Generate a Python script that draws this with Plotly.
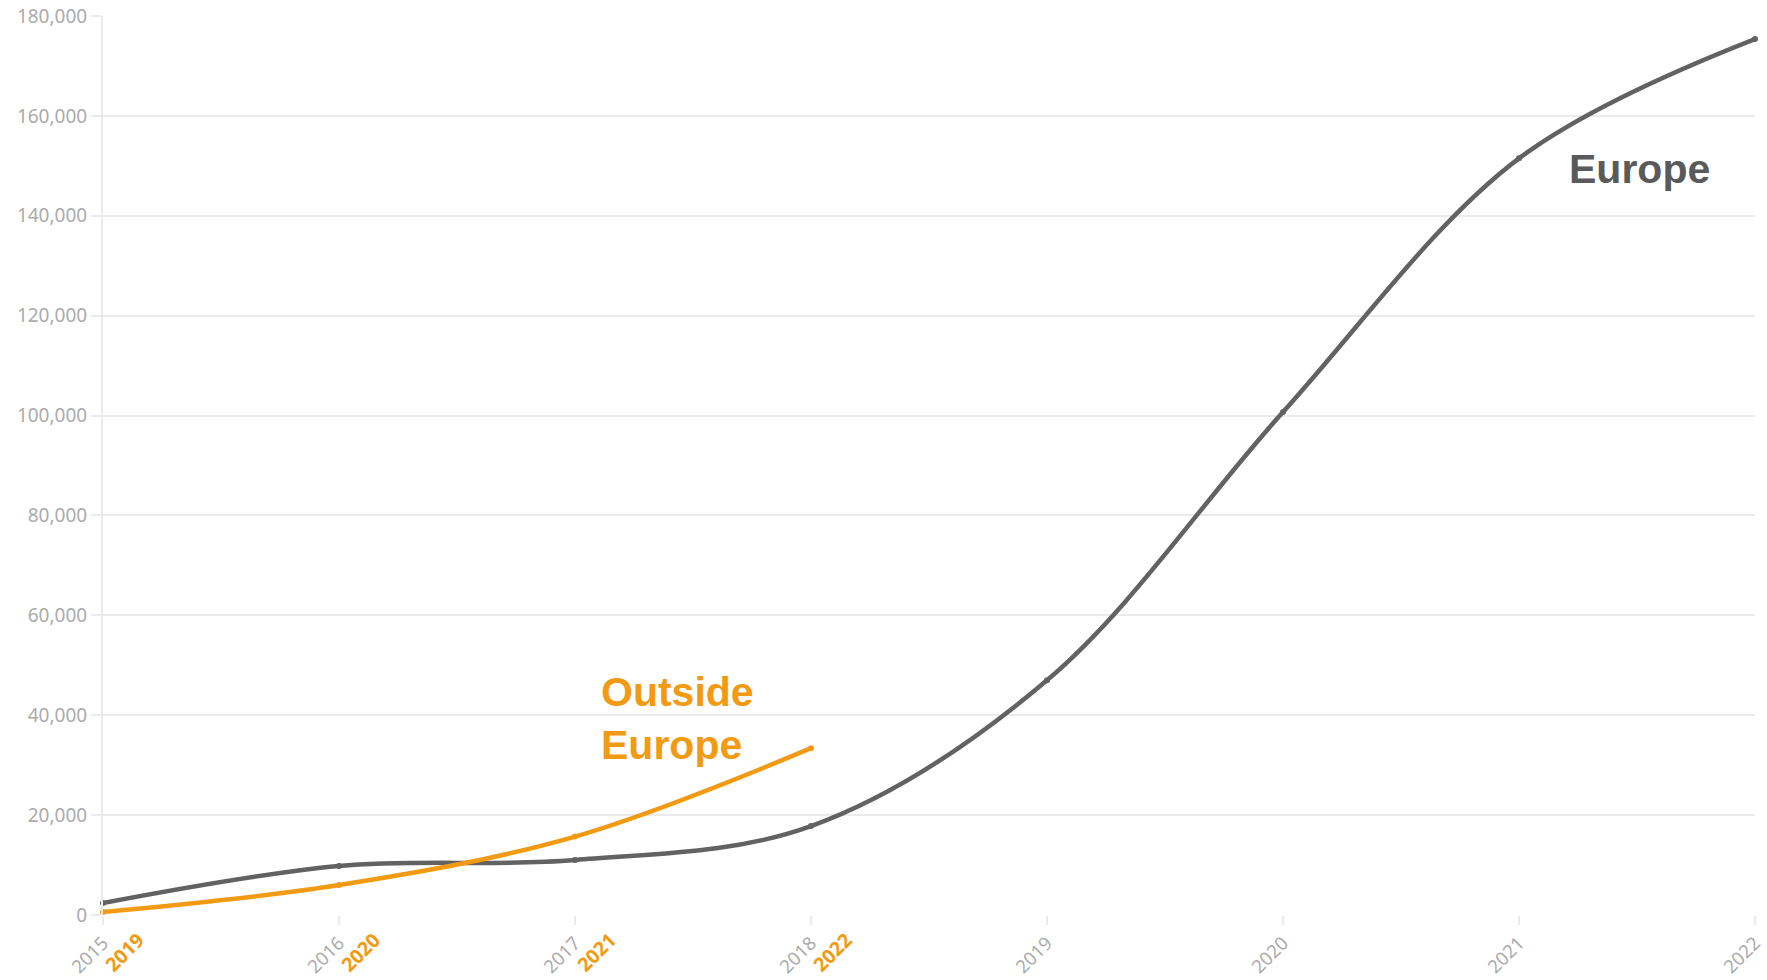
import plotly.graph_objects as go

years = [2015, 2016, 2017, 2018, 2019, 2020, 2021, 2022]
europe = [2400, 9800, 11000, 17800, 47000, 100700, 151500, 175400]

outside_pos = [2015, 2016, 2017, 2018]
outside_years = ["2019", "2020", "2021", "2022"]
outside = [600, 6000, 15700, 33400]

y_ticks = [0, 20000, 40000, 60000, 80000, 100000, 120000, 140000, 160000, 180000]

GREY = "#626262"
ORANGE = "#f29a12"
LABEL = "#ababab"
GRID = "#ebebeb"

fig = go.Figure()
fig.add_trace(go.Scatter(
    x=years, y=europe, mode="lines+markers",
    line=dict(color=GREY, width=4.5, shape="spline", smoothing=1),
    marker=dict(color=GREY, size=6),
    cliponaxis=False, showlegend=False, name="Europe"))
fig.add_trace(go.Scatter(
    x=outside_pos, y=outside, mode="lines+markers",
    line=dict(color=ORANGE, width=4.5, shape="spline", smoothing=1),
    marker=dict(color=ORANGE, size=6),
    cliponaxis=False, showlegend=False, name="Outside Europe"))

annotations = []
for p, lab in zip(outside_pos, outside_years):
    annotations.append(dict(
        x=p, y=0, xref="x", yref="paper", text="<b>%s</b>" % lab,
        showarrow=False, xanchor="left", yanchor="top", yshift=-10, xshift=-5,
        textangle=-45, borderpad=0,
        font=dict(family="Noto Sans", size=19.5, color=ORANGE)))

annotations.append(dict(
    x=2017.1, y=49600, xref="x", yref="y", text="<b>Outside<br>Europe</b>",
    showarrow=False, xanchor="left", yanchor="top", align="left",
    font=dict(family="Liberation Sans", size=41, color=ORANGE)))
annotations.append(dict(
    x=2021.205, y=154400, xref="x", yref="y", text="<b>Europe</b>",
    showarrow=False, xanchor="left", yanchor="top", align="left",
    font=dict(family="Liberation Sans", size=41, color="#5a5a5a")))

fig.update_layout(
    width=1767, height=980,
    margin=dict(l=103, r=12, t=16, b=65),
    plot_bgcolor="white", paper_bgcolor="white",
    annotations=annotations,
    xaxis=dict(
        range=[2015, 2022], tickvals=years, ticktext=[str(y) for y in years],
        tickangle=-45, showgrid=False, zeroline=False, automargin=False,
        ticks="outside", ticklen=9, tickcolor=GRID, tickwidth=2,
        showline=False, ticklabelstandoff=0,
        tickfont=dict(family="Noto Sans", size=18.5, color=LABEL)),
    yaxis=dict(
        range=[0, 180000], tickvals=y_ticks,
        ticktext=["{:,}".format(v) for v in y_ticks],
        showgrid=True, gridcolor=GRID, gridwidth=2, zeroline=False,
        showline=True, linecolor=GRID, linewidth=2, automargin=False,
        ticks="outside", ticklen=10, tickcolor=GRID, tickwidth=2,
        tickfont=dict(family="Noto Sans", size=19, color=LABEL)),
)

fig.write_html(
    "out.html",
    config={"displayModeBar": False},
    post_script="document.body.style.margin='0';document.body.style.overflow='hidden';",
)
